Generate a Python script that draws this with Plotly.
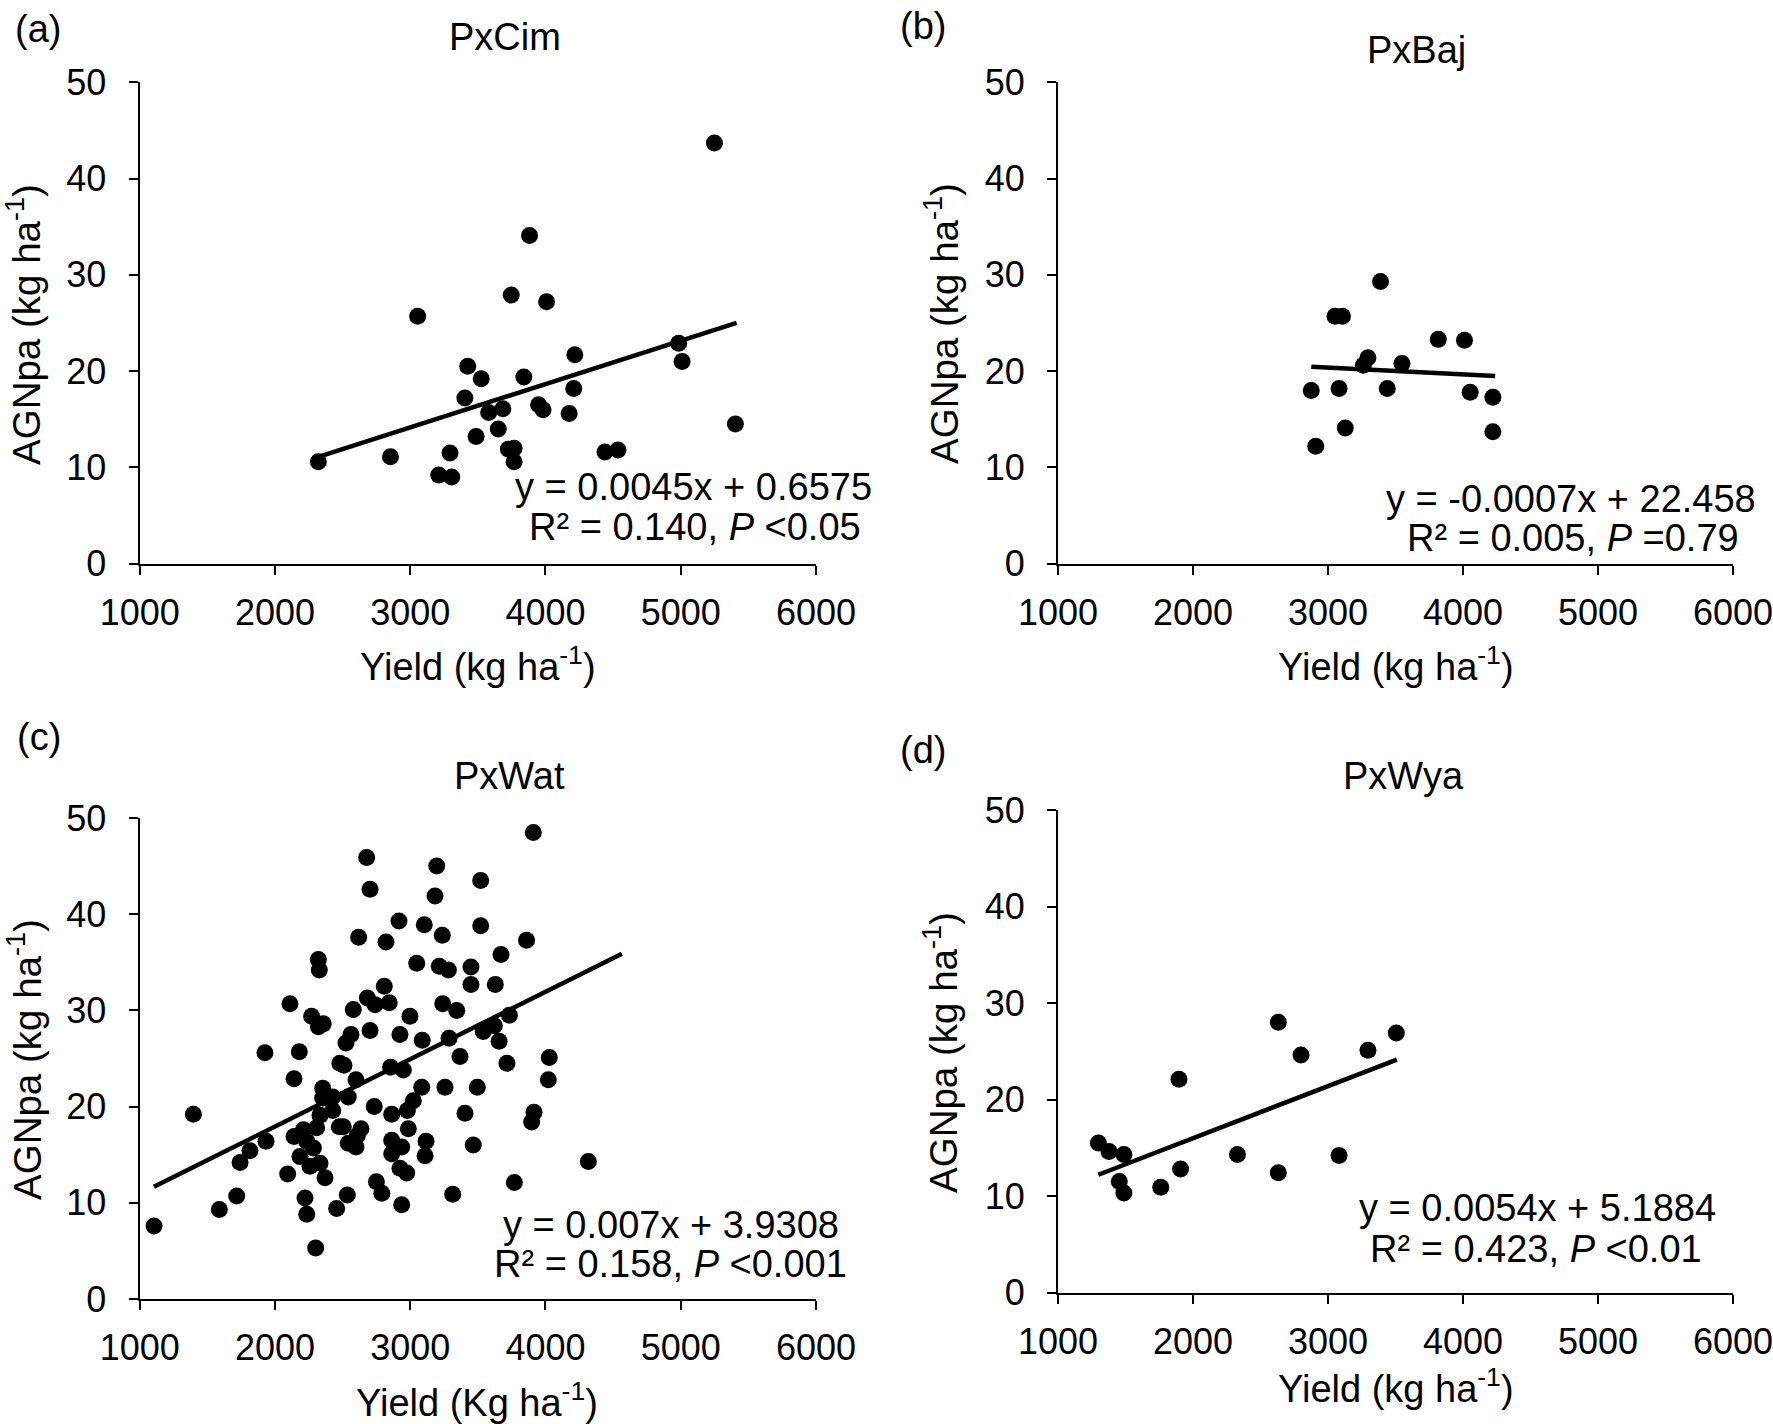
import plotly.graph_objects as go

W, H = 1773, 1424
FONT = "Liberation Sans, Arial, sans-serif"

# ---------------- data ----------------
panel_letters = ["(a)", "(b)", "(c)", "(d)"]
panel_titles = ["PxCim", "PxBaj", "PxWat", "PxWya"]
x_titles = ["Yield (kg ha<sup>-1</sup>)", "Yield (kg ha<sup>-1</sup>)",
            "Yield (Kg ha<sup>-1</sup>)", "Yield (kg ha<sup>-1</sup>)"]
y_title = "AGNpa (kg ha<sup>-1</sup>)"
eq_line1 = ["y = 0.0045x + 0.6575", "y = -0.0007x + 22.458",
            "y = 0.007x + 3.9308", "y = 0.0054x + 5.1884"]
eq_line2 = ["R² = 0.140, <i>P</i> <0.05", "R² = 0.005, <i>P</i> =0.79",
            "R² = 0.158, <i>P</i> <0.001", "R² = 0.423, <i>P</i> <0.01"]
slopes = [0.0045, -0.0007, 0.007, 0.0054]
intercepts = [0.6575, 22.458, 3.9308, 5.1884]
trend_x_range = [[2321, 5413], [2876, 4238], [1105, 4565], [1299, 3510]]
x_ticks = [1000, 2000, 3000, 4000, 5000, 6000]
y_ticks = [0, 10, 20, 30, 40, 50]

a_x = [2321, 2854, 3055, 3211, 3307, 3294, 3404, 3425, 3525, 3487, 3580, 3685, 3651, 3747, 3726, 3768,
       3768, 3882, 3840, 3949, 3982, 4008, 4175, 4209, 4217, 4440, 4536, 4985, 5010, 5249, 5404]
a_y = [10.6, 11.1, 25.7, 9.2, 9.0, 11.5, 17.2, 20.5, 19.2, 13.2, 15.7, 16.1, 14.0, 27.9, 11.9, 12.0,
       10.6, 34.1, 19.4, 16.5, 16.0, 27.2, 15.6, 18.2, 21.7, 11.6, 11.8, 22.9, 21.0, 43.7, 14.5]

b_x = [2876, 2909, 3052, 3107, 3082, 3128, 3262, 3296, 3389, 3439, 3548, 3817, 4011, 4053, 4221, 4221]
b_y = [18.0, 12.2, 25.7, 25.7, 18.2, 14.1, 20.6, 21.4, 29.3, 18.2, 20.8, 23.3, 23.2, 17.8, 17.3, 13.7]

c_x = [2678, 2703, 2619, 2821, 2321, 2328, 2808, 2111, 2683, 2740, 2845, 2579, 2271, 2357, 2321, 2562,
       2525, 2703, 1926, 2180,
       3910, 3196, 3521, 3183, 2917, 3104, 3237, 3521, 3860, 3671, 3048, 3215, 3282, 3449, 3449, 3629,
       3240, 3344, 2998, 3733, 2924, 3089, 3287, 3540, 3622, 3657, 3368, 4028,
       2855, 2949, 3715, 4021, 3085, 3257, 3496, 3023, 2979, 2863, 3405, 3915, 3898, 2986, 2863, 3117,
       2937, 2863, 3110, 3466, 2974, 2924, 4317, 3770, 3314, 2937,
       2480, 2510, 2141, 2599, 2353, 2353, 2542, 2427, 2734, 2427, 2333, 2308, 2476, 2505, 2636, 2609,
       2210, 2141, 2599, 2542, 2235, 2284, 2185, 2333, 2259, 2370, 2094, 1934, 1815, 1742, 1717, 1589,
       1397, 1106, 2222, 2235, 2301, 2456, 2535, 2750, 2790]
c_y = [45.9, 42.6, 37.6, 37.1, 35.3, 34.2, 32.5, 30.7, 31.3, 30.6, 30.8, 30.1, 29.4, 28.6, 28.3, 27.5,
       26.6, 27.9, 25.6, 25.7,
       48.5, 45.0, 43.5, 41.9, 39.3, 38.9, 37.8, 38.8, 37.3, 35.8, 34.9, 34.6, 34.2, 34.5, 32.7, 32.7,
       30.7, 30.0, 29.4, 29.5, 27.5, 26.9, 27.1, 27.8, 28.4, 26.8, 25.2, 25.1,
       24.1, 23.8, 24.5, 22.8, 22.0, 22.0, 22.0, 20.6, 19.6, 19.2, 19.3, 19.4, 18.4, 17.7, 16.5, 16.4,
       15.8, 15.1, 14.9, 16.0, 13.1, 13.6, 14.3, 12.1, 10.9, 9.8,
       24.5, 24.3, 22.9, 22.8, 21.9, 20.9, 21.0, 21.0, 20.0, 19.6, 19.1, 17.8, 17.9, 17.9, 17.7, 17.0,
       17.6, 16.9, 15.8, 16.2, 16.4, 15.7, 14.8, 14.1, 13.8, 12.6, 13.0, 16.4, 15.4, 14.2, 10.7, 9.3,
       19.2, 7.6, 10.5, 8.8, 5.3, 9.4, 10.8, 12.2, 11.0]

d_x = [1299, 1378, 1488, 1454, 1488, 1761, 1896, 1908, 2329, 2632, 2632, 2800, 3082, 3296, 3506]
d_y = [15.5, 14.6, 14.3, 11.5, 10.3, 10.9, 22.1, 12.8, 14.3, 28.0, 12.4, 24.6, 14.2, 25.1, 26.9]

xs = [a_x, b_x, c_x, d_x]
ys = [a_y, b_y, c_y, d_y]

# ---------------- layout (pixel geometry) ----------------
# plot boxes: left, right, top, bottom (pixels)
boxes = [(139.7, 816, 82.3, 563.7), (1058, 1733, 82.3, 563.7),
         (139.7, 816, 818, 1299), (1058, 1733, 810, 1292.5)]
letter_pos = [(13, 29), (898, 26), (15, 737), (898, 750)]
title_pos = [(505, 37), (1416, 50), (509, 776), (1403, 776)]
xtitle_pos = [(478, 664), (1396, 664), (477, 1400), (1396, 1386)]
ytitle_pos = [(24, 325), (942, 323), (25, 1060), (941, 1053)]
eq1_pos = [(693, 487), (1571, 499), (671, 1225), (1537, 1208)]
eq2_pos = [(695, 527), (1573, 538), (670, 1264), (1536, 1249)]


def fx(p):
    return p / W


def fy(p):
    return 1 - p / H


fig = go.Figure()
axis_common = dict(showline=True, linecolor="black", linewidth=2.2, ticks="outside",
                   ticklen=9, tickwidth=2.2, tickcolor="black", showgrid=False,
                   zeroline=False, tickfont=dict(family=FONT, size=36, color="black"),
                   fixedrange=True, automargin=False, ticklabeloverflow="allow")

annotations = []
for i in range(4):
    n = "" if i == 0 else str(i + 1)
    L, R, T, B = boxes[i]
    fig.add_trace(go.Scatter(x=xs[i], y=ys[i], mode="markers", xaxis="x" + n, yaxis="y" + n,
                             marker=dict(color="black", size=17, line=dict(width=0)),
                             showlegend=False, cliponaxis=False))
    tx = trend_x_range[i]
    ty = [slopes[i] * v + intercepts[i] for v in tx]
    fig.add_trace(go.Scatter(x=tx, y=ty, mode="lines", xaxis="x" + n, yaxis="y" + n,
                             line=dict(color="black", width=4.5), showlegend=False))
    fig.update_layout(**{
        "xaxis" + n: dict(axis_common, domain=[fx(L), fx(R)], range=[1000, 6000],
                          tickvals=x_ticks, anchor="y" + n, ticklabelstandoff=7),
        "yaxis" + n: dict(axis_common, domain=[fy(B), fy(T)], range=[0, 50],
                          tickvals=y_ticks, anchor="x" + n, ticklabelstandoff=15),
    })
    common = dict(xref="paper", yref="paper", showarrow=False)
    annotations.append(dict(common, text=panel_letters[i], x=fx(letter_pos[i][0]),
                            y=fy(letter_pos[i][1]), xanchor="left", yanchor="middle",
                            font=dict(family=FONT, size=38, color="black")))
    annotations.append(dict(common, text=panel_titles[i], x=fx(title_pos[i][0]),
                            y=fy(title_pos[i][1]), xanchor="center", yanchor="middle",
                            font=dict(family=FONT, size=38, color="black")))
    annotations.append(dict(common, text=x_titles[i], x=fx(xtitle_pos[i][0]),
                            y=fy(xtitle_pos[i][1]), xanchor="center", yanchor="middle",
                            font=dict(family=FONT, size=38, color="black")))
    annotations.append(dict(common, text=y_title, x=fx(ytitle_pos[i][0]),
                            y=fy(ytitle_pos[i][1]), xanchor="center", yanchor="middle",
                            textangle=-90, font=dict(family=FONT, size=38.5, color="black")))
    annotations.append(dict(common, text=eq_line1[i], x=fx(eq1_pos[i][0]),
                            y=fy(eq1_pos[i][1]), xanchor="center", yanchor="middle",
                            font=dict(family=FONT, size=38, color="black")))
    annotations.append(dict(common, text=eq_line2[i], x=fx(eq2_pos[i][0]),
                            y=fy(eq2_pos[i][1]), xanchor="center", yanchor="middle",
                            font=dict(family=FONT, size=38, color="black")))

fig.update_layout(width=W, height=H,
                  margin=dict(l=0, r=0, t=0, b=0, pad=0, autoexpand=False),
                  paper_bgcolor="white", plot_bgcolor="white", showlegend=False,
                  annotations=annotations, font=dict(family=FONT, color="black"))

fig.write_html("out.html", post_script="document.body.style.margin='0';",
               config={"displayModeBar": False})
